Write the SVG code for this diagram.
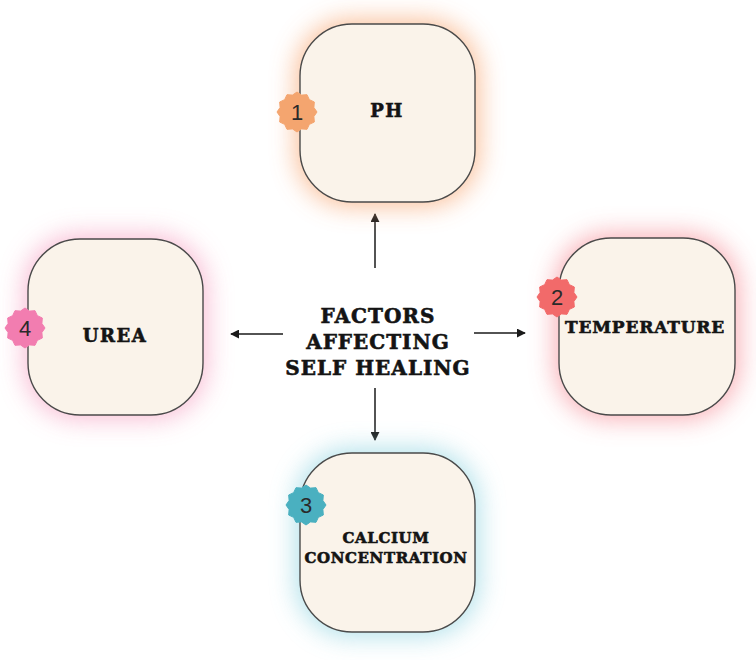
<svg xmlns="http://www.w3.org/2000/svg" width="756" height="660" viewBox="0 0 756 660">
<defs>
<style>
.box{fill:#faf3ea;stroke:#4a4a4a;stroke-width:1.4}
.lbl{font-family:"DejaVu Serif","Liberation Serif",serif;font-weight:bold;fill:#141414;stroke:#141414;stroke-width:0.6;text-anchor:middle}
.num{font-family:"Liberation Sans","DejaVu Sans",sans-serif;font-size:22px;fill:#2a2a2a;text-anchor:middle}
.conn{stroke:#1a1a1a;stroke-width:1.5;fill:none}
.glow{filter:url(#glow);opacity:0.85}
</style>
<filter id="glow" x="-50%" y="-50%" width="200%" height="200%"><feGaussianBlur stdDeviation="13"/></filter>
<marker id="ah" viewBox="0 0 10 10" refX="9" refY="5" markerWidth="6" markerHeight="6" orient="auto"><path d="M0,0 L10,5 L0,10 Z" fill="#1a1a1a"/></marker>
<polygon id="badge" points="20,0 16.9,4.53 17.32,10 12.37,12.37 10,17.32 4.53,16.9 0,20 -4.53,16.9 -10,17.32 -12.37,12.37 -17.32,10 -16.9,4.53 -20,0 -16.9,-4.53 -17.32,-10 -12.37,-12.37 -10,-17.32 -4.53,-16.9 0,-20 4.53,-16.9 10,-17.32 12.37,-12.37 17.32,-10 16.9,-4.53" stroke-linejoin="round"/>
</defs>
<rect width="756" height="660" fill="#ffffff"/>

<g id="connectors">
<line class="conn" x1="375" y1="268" x2="375" y2="214" marker-end="url(#ah)"/>
<line class="conn" x1="283" y1="334" x2="231" y2="334" marker-end="url(#ah)"/>
<line class="conn" x1="474" y1="333" x2="525" y2="333" marker-end="url(#ah)"/>
<line class="conn" x1="375" y1="388" x2="375" y2="440" marker-end="url(#ah)"/>
</g>

<g id="center">
<text class="lbl" x="378" y="323" font-size="20" letter-spacing="1">FACTORS</text>
<text class="lbl" x="378" y="349" font-size="20" letter-spacing="1">AFFECTING</text>
<text class="lbl" x="378" y="375" font-size="20" letter-spacing="1">SELF HEALING</text>
</g>

<g id="node-ph">
<rect class="glow" x="296" y="20" width="183" height="186" rx="55" fill="#f9b386"/>
<rect class="box" x="300" y="24" width="175" height="178" rx="52"/>
<text class="lbl" x="387" y="117" font-size="18" letter-spacing="1.5">PH</text>
<use href="#badge" x="297" y="112" fill="#f4a56f" stroke="#f4a56f" stroke-width="1"/>
<text class="num" x="297" y="120">1</text>
</g>

<g id="node-temperature">
<rect class="glow" x="555" y="234" width="184" height="185" rx="55" fill="#f8a0a8"/>
<rect class="box" x="559" y="238" width="176" height="177" rx="52"/>
<text class="lbl" x="645" y="333" font-size="17" letter-spacing="0.8">TEMPERATURE</text>
<use href="#badge" x="557" y="297" fill="#f26a6a" stroke="#f26a6a" stroke-width="1"/>
<text class="num" x="557" y="305">2</text>
</g>

<g id="node-calcium">
<rect class="glow" x="296" y="449" width="183" height="187" rx="55" fill="#a3dbe6"/>
<rect class="box" x="300" y="453" width="175" height="179" rx="52"/>
<text class="lbl" x="386" y="543" font-size="15" letter-spacing="0.6">CALCIUM</text>
<text class="lbl" x="386" y="563" font-size="15" letter-spacing="0.6">CONCENTRATION</text>
<use href="#badge" x="306" y="505" fill="#4ab0c0" stroke="#4ab0c0" stroke-width="1"/>
<text class="num" x="306" y="513">3</text>
</g>

<g id="node-urea">
<rect class="glow" x="24" y="235" width="183" height="184" rx="55" fill="#f8b0cc"/>
<rect class="box" x="28" y="239" width="175" height="176" rx="52"/>
<text class="lbl" x="115" y="342" font-size="18" letter-spacing="1.5">UREA</text>
<use href="#badge" x="25" y="328" fill="#f27db0" stroke="#f27db0" stroke-width="1"/>
<text class="num" x="25" y="336">4</text>
</g>
</svg>
